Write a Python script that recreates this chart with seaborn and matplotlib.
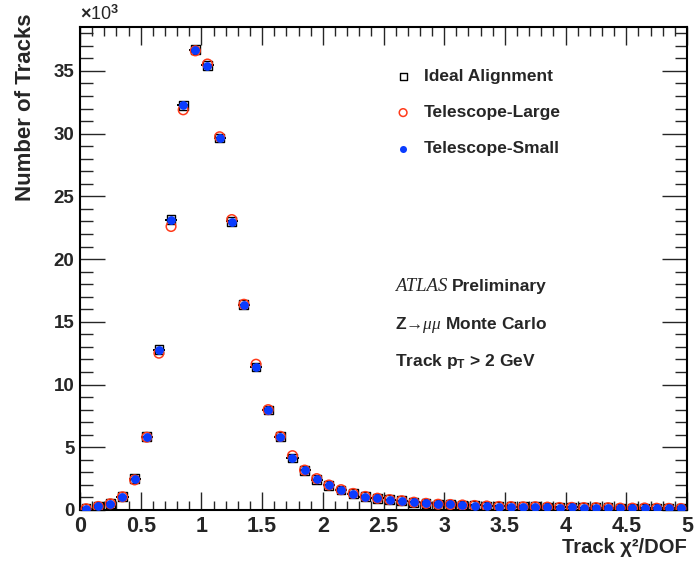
import numpy as np
import pandas as pd
import seaborn as sns
import matplotlib.pyplot as plt
from matplotlib.ticker import MultipleLocator, FormatStrFormatter

# --- data (track chi2/DOF, counts in units of 10^3) ---
bin_centers = [0.05, 0.15, 0.25, 0.35, 0.45, 0.55, 0.65, 0.75, 0.85, 0.95,
               1.05, 1.15, 1.25, 1.35, 1.45, 1.55, 1.65, 1.75, 1.85, 1.95,
               2.05, 2.15, 2.25, 2.35, 2.45, 2.55, 2.65, 2.75, 2.85, 2.95,
               3.05, 3.15, 3.25, 3.35, 3.45, 3.55, 3.65, 3.75, 3.85, 3.95,
               4.05, 4.15, 4.25, 4.35, 4.45, 4.55, 4.65, 4.75, 4.85, 4.95]

ideal = [0.10, 0.28, 0.50, 1.05, 2.48, 5.85, 12.78, 23.15, 32.25, 36.70,
         35.45, 29.65, 23.00, 16.35, 11.40, 7.97, 5.85, 4.15, 3.15, 2.43,
         1.97, 1.60, 1.30, 1.07, 0.93, 0.82, 0.73, 0.62, 0.53, 0.46,
         0.44, 0.40, 0.36, 0.32, 0.28, 0.27, 0.25, 0.26, 0.23, 0.20,
         0.21, 0.19, 0.19, 0.18, 0.15, 0.15, 0.16, 0.14, 0.13, 0.12]

tele_large = [0.10, 0.28, 0.50, 1.05, 2.40, 5.80, 12.50, 22.60, 31.90, 36.60,
              35.55, 29.75, 23.15, 16.40, 11.62, 8.00, 5.87, 4.33, 3.18, 2.50,
              1.99, 1.62, 1.32, 1.08, 0.94, 0.83, 0.74, 0.62, 0.53, 0.46,
              0.44, 0.40, 0.36, 0.32, 0.28, 0.27, 0.25, 0.26, 0.23, 0.20,
              0.21, 0.19, 0.19, 0.18, 0.15, 0.15, 0.16, 0.14, 0.13, 0.12]

tele_small = [0.10, 0.28, 0.50, 1.05, 2.47, 5.85, 12.76, 23.10, 32.30, 36.65,
              35.43, 29.66, 22.95, 16.35, 11.40, 7.97, 5.85, 4.17, 3.16, 2.45,
              1.97, 1.61, 1.30, 1.06, 0.93, 0.82, 0.74, 0.61, 0.53, 0.45,
              0.45, 0.40, 0.35, 0.32, 0.27, 0.27, 0.24, 0.26, 0.24, 0.19,
              0.21, 0.19, 0.19, 0.18, 0.14, 0.14, 0.16, 0.14, 0.12, 0.12]

bin_half_width = 0.05

df = pd.DataFrame({'chi2': bin_centers, 'ideal': ideal,
                   'large': tele_large, 'small': tele_small})

# --- style ---
sns.set_style("ticks")
plt.rcParams['font.family'] = ['Liberation Sans', 'DejaVu Sans']
plt.rcParams['mathtext.fontset'] = 'custom'
plt.rcParams['mathtext.rm'] = 'Liberation Sans:bold'
plt.rcParams['mathtext.bf'] = 'Liberation Sans:bold'
plt.rcParams['mathtext.it'] = 'Liberation Serif:italic'

fig = plt.figure(figsize=(6.95, 5.63), dpi=100)
ax = fig.add_axes([80 / 695, 53 / 563, 607 / 695, 483 / 563])

red = '#ff3a1a'
blue = '#0a3cff'

# horizontal bin-width bars for ideal alignment
ax.errorbar(df['chi2'], df['ideal'], xerr=bin_half_width, fmt='none',
            ecolor='black', elinewidth=1.4, capsize=0, zorder=2)
sns.scatterplot(x='chi2', y='ideal', data=df, marker='s', s=40,
                facecolor='none', edgecolor='black', linewidth=1.0,
                label='Ideal Alignment', ax=ax, zorder=3)
sns.scatterplot(x='chi2', y='large', data=df, marker='o', s=48,
                facecolor='none', edgecolor=red, linewidth=1.1,
                label='Telescope-Large', ax=ax, zorder=4)
sns.scatterplot(x='chi2', y='small', data=df, marker='o', s=40,
                color=blue, edgecolor=blue, linewidth=0,
                label='Telescope-Small', ax=ax, zorder=5)

ax.set_xlim(0, 5)
ax.set_ylim(0, 38.5)

ax.xaxis.set_major_locator(MultipleLocator(0.5))
ax.xaxis.set_minor_locator(MultipleLocator(0.1))
ax.yaxis.set_major_locator(MultipleLocator(5))
ax.yaxis.set_minor_locator(MultipleLocator(1))
ax.xaxis.set_major_formatter(FormatStrFormatter('%g'))

ax.tick_params(axis='x', which='major', direction='in', length=13, width=1,
               top=True, bottom=True, labelsize=15.5, pad=4)
ax.tick_params(axis='x', which='minor', direction='in', length=6.5, width=1,
               top=True, bottom=True)
ax.tick_params(axis='y', which='major', direction='in', length=18, width=1,
               left=True, right=True, labelsize=13.5, pad=4)
ax.tick_params(axis='y', which='minor', direction='in', length=9, width=1,
               left=True, right=True)
for lab in ax.get_xticklabels() + ax.get_yticklabels():
    lab.set_fontweight('bold')
for sp in ax.spines.values():
    sp.set_linewidth(1.5)
    sp.set_color('black')

ax.set_xlabel('Track χ²/DOF', fontsize=14.5, fontweight='bold', loc='right')
ax.xaxis.set_label_coords(1.0, -0.058)
ax.set_ylabel('Number of Tracks', fontsize=16, fontweight='bold', loc='top')
ax.yaxis.set_label_coords(-0.072, 1.027)

ax.text(0.0, 1.006, r'$\times$10$^3$', transform=ax.transAxes,
        fontsize=13, ha='left', va='bottom')

ax.legend(loc='upper left', bbox_to_anchor=(0.518, 0.913), frameon=False,
          borderaxespad=0, borderpad=0, handlelength=1.0, handletextpad=0.7,
          labelspacing=1.2, markerscale=0.8,
          prop={'weight': 'bold', 'size': 12.5})

ax.text(0.519, 0.462, 'ATLAS', transform=ax.transAxes, fontsize=13.5,
        family='Liberation Serif', style='italic', va='center')
ax.text(0.613, 0.462, 'Preliminary', transform=ax.transAxes, fontsize=12.5,
        fontweight='bold', va='center')
ax.text(0.519, 0.383, r'Z→$\mu\mu$ Monte Carlo', transform=ax.transAxes,
        fontsize=12.5, fontweight='bold', va='center')
ax.text(0.519, 0.308, r'Track p$_\mathrm{T}$ > 2 GeV', transform=ax.transAxes,
        fontsize=12.5, fontweight='bold', va='center')

fig.savefig('out.png', dpi=100)
